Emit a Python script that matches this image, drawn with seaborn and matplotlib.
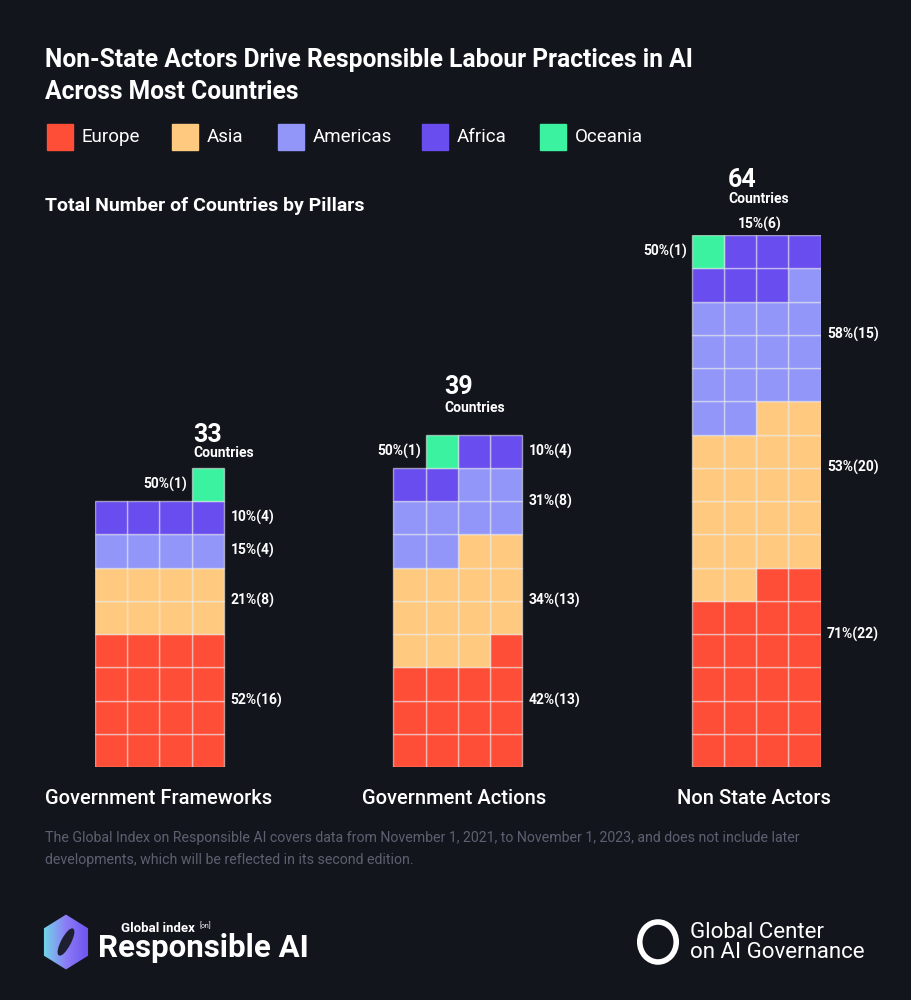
import numpy as np
import pandas as pd
import seaborn as sns
import matplotlib.pyplot as plt
from matplotlib.patches import RegularPolygon, Circle, Ellipse

# ---- data ----
regions = ["Europe", "Asia", "Americas", "Africa", "Oceania"]
pillars = ["Government Frameworks", "Government Actions", "Non State Actors"]
totals = [33, 39, 64]
counts_gf = [16, 8, 4, 4, 1]
counts_ga = [13, 13, 8, 4, 1]
counts_nsa = [22, 20, 15, 6, 1]
pct_gf = [52, 21, 15, 10, 50]
pct_ga = [42, 34, 31, 10, 50]
pct_nsa = [71, 53, 58, 15, 50]

colors = ["#FF4E37", "#FFC980", "#9196F8", "#6A4DEE", "#3AF2A0"]
BG = "#13151D"

# ---- layout (positions only) ----
ncols = 4
group_x = [0, 9.25, 18.5]
label_rows = [[2, 5, 6.5, 7.5, 8.5],
              [2, 5, 8, 9.5, 9.5],
              [4, 9, 13, 16.33, 15.5]]
head_x = [3.04, 1.57, 1.13]
head_num_y = [10.0, 11.42, 17.64]
head_txt_y = [9.44, 10.8, 17.08]
cat_x_px = [45, 362, 677]


def build_cells(counts, pillar):
    rows = []
    i = 0
    for reg, n in zip(regions, counts):
        for _ in range(n):
            rows.append({"pillar": pillar, "region": reg,
                         "row": i // ncols, "col": ncols - 1 - i % ncols})
            i += 1
    return rows


cells = pd.DataFrame(build_cells(counts_gf, pillars[0])
                     + build_cells(counts_ga, pillars[1])
                     + build_cells(counts_nsa, pillars[2]))

sns.set_theme(style="dark", rc={"figure.facecolor": BG, "axes.facecolor": BG,
                                "savefig.facecolor": BG})
plt.rcParams["font.family"] = ["Roboto", "DejaVu Sans"]

fig = plt.figure(figsize=(9.12, 10), dpi=100)


def fx(px):
    return px / 912


def fy(py):
    return 1 - py / 1000


ax = fig.add_axes([fx(95), fy(767), 725.6 / 912, 0.532])
ax.set_xlim(0, 22.5)
ax.set_ylim(0, 16)
ax.axis("off")

palette = dict(zip(regions, colors))
for gi, p in enumerate(pillars):
    sub = cells[cells["pillar"] == p]
    ax.bar(group_x[gi] + sub["col"] + 0.5, 1, bottom=sub["row"], width=1,
           color=[palette[r] for r in sub["region"]],
           edgecolor=(1, 1, 1, 0.5), linewidth=1)

all_counts = [counts_gf, counts_ga, counts_nsa]
all_pct = [pct_gf, pct_ga, pct_nsa]
for gi in range(3):
    x0 = group_x[gi]
    for ri, reg in enumerate(regions):
        txt = f"{all_pct[gi][ri]}%({all_counts[gi][ri]})"
        y = label_rows[gi][ri]
        if reg == "Oceania":
            # left of the oceania cell
            oc = cells[(cells["pillar"] == pillars[gi]) & (cells["region"] == reg)]
            ax.text(x0 + oc["col"].iloc[0] - 0.15, y, txt, ha="right", va="center",
                    color="white", fontsize=10, fontweight="bold", clip_on=False)
        elif gi == 2 and reg == "Africa":
            ax.text(x0 + 2.12, y, txt, ha="center", va="center",
                    color="white", fontsize=10, fontweight="bold", clip_on=False)
        else:
            ax.text(x0 + ncols + 0.2, y, txt, ha="left", va="center",
                    color="white", fontsize=10, fontweight="bold", clip_on=False)
    ax.text(x0 + head_x[gi], head_num_y[gi], str(totals[gi]), ha="left", va="center",
            color="white", fontsize=18, fontweight="bold", clip_on=False)
    ax.text(x0 + head_x[gi], head_txt_y[gi], "Countries", ha="left", va="center",
            color="white", fontsize=10, fontweight="bold", clip_on=False)
    fig.text(fx(cat_x_px[gi]), fy(798), pillars[gi], ha="left", va="center",
             color="white", fontsize=14.5, fontweight="medium")

# title & legend
fig.text(fx(45), fy(60), "Non-State Actors Drive Responsible Labour Practices in AI",
         ha="left", va="center", color="white", fontsize=17.7, fontweight="bold")
fig.text(fx(45), fy(92), "Across Most Countries",
         ha="left", va="center", color="white", fontsize=17.7, fontweight="bold")

leg_x = [47, 172, 278, 422, 540]
for reg, c, lx in zip(regions, colors, leg_x):
    fig.patches.append(plt.Rectangle((fx(lx), fy(150)), 26 / 912, 0.026,
                                     transform=fig.transFigure, color=c))
    fig.text(fx(lx + 35), fy(137), reg, ha="left", va="center",
             color="white", fontsize=13.5)

fig.text(fx(45), fy(206), "Total Number of Countries by Pillars", ha="left", va="center",
         color="white", fontsize=14, fontweight="bold")

# footnote
fig.text(fx(45), fy(838),
         "The Global Index on Responsible AI covers data from November 1, 2021, to November 1, 2023, and does not include later",
         ha="left", va="center", color="#5D6070", fontsize=10.2)
fig.text(fx(45), fy(860), "developments, which will be reflected in its second edition.",
         ha="left", va="center", color="#5D6070", fontsize=10.2)

# logos
lax = fig.add_axes([fx(40), fy(970), 52 / 912, 0.056])
lax.axis("off")
grad = np.linspace(0, 1, 64)[None, :] * np.ones((64, 1))
img = lax.imshow(grad, cmap=sns.blend_palette(["#6FE3E6", "#8B7CF6", "#6A4DEE"], as_cmap=True),
                 extent=(-1, 1, -1, 1), aspect="auto")
hexa = RegularPolygon((0, 0), 6, radius=0.98, orientation=0, transform=lax.transData)
img.set_clip_path(hexa)
lax.set_xlim(-1, 1)
lax.set_ylim(-1, 1)
lax.add_patch(Ellipse((0, 0), 0.32, 1.05, angle=-30, color="#1E2032"))

fig.text(fx(121), fy(928), "Global index", ha="left", va="center",
         color="white", fontsize=9.5, fontweight="bold")
fig.text(fx(200), fy(926), "[on]", ha="left", va="center",
         color="white", fontsize=5)
fig.text(fx(98), fy(948), "Responsible AI", ha="left", va="center",
         color="white", fontsize=22.5, fontweight="bold")

fig.patches.append(Circle((fx(658), fy(942)), 0.02, transform=fig.transFigure,
                          fill=False, edgecolor="white", linewidth=4))
fig.text(fx(690), fy(932), "Global Center", ha="left", va="center",
         color="white", fontsize=16)
fig.text(fx(690), fy(953), "on AI Governance", ha="left", va="center",
         color="white", fontsize=16)

fig.savefig("out.png", dpi=100, facecolor=BG)
